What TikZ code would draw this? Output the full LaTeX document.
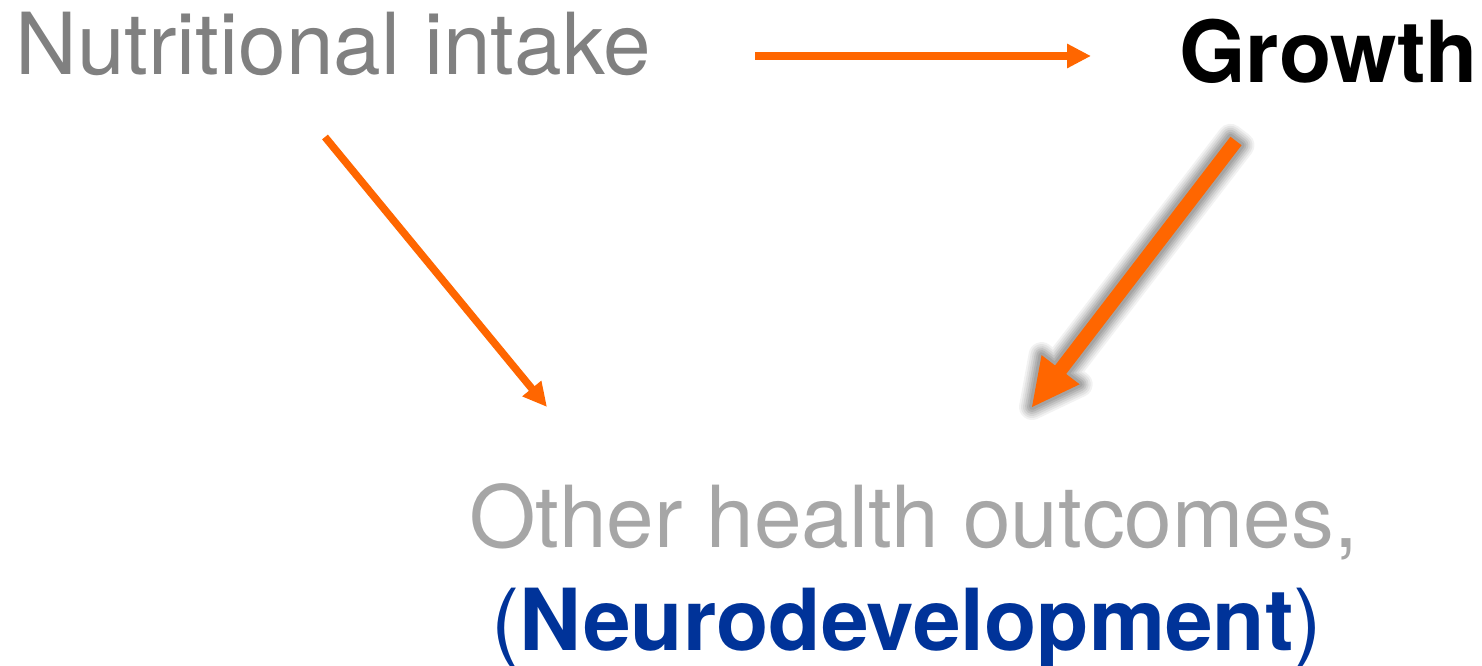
\documentclass[tikz,border=0pt]{standalone}
\usepackage{fontspec}
\setmainfont{TeX Gyre Heros}
\usetikzlibrary{arrows.meta,calc}

\definecolor{linkorange}{HTML}{FF6600}
\definecolor{darkgraytext}{HTML}{808080}
\definecolor{lightgraytext}{HTML}{A6A6A6}
\definecolor{neuroblue}{HTML}{003399}

\tikzset{
  label text/.style={anchor=base west, inner sep=0pt, font=\fontsize{85.6}{100}\selectfont},
  thin link/.style={draw=linkorange, line width=7.5pt,
    -{Triangle[length=24pt,width=23pt]}},
}

% outline of the broad arrow from growth down to the outcomes
\newcommand\broadarrowoutline{%
  ($(gs)!7pt!90:(ot)$) -- ($(hb)!7pt!90:(ot)$) -- ($(hb)!24pt!90:(ot)$) --
  (ot) -- ($(hb)!24pt!-90:(ot)$) -- ($(hb)!7pt!-90:(ot)$) --
  ($(gs)!7pt!-90:(ot)$) -- cycle}

\begin{document}
\begin{tikzpicture}[x=1pt,y=-1pt]
  \useasboundingbox (0,0) rectangle (1482,666);

  % labels
  \node[label text, text=darkgraytext] (nut) at (15,75) {Nutritional intake};
  \node[label text, text=black, font=\fontsize{85.6}{100}\selectfont\bfseries] (gro) at (1179,83) {Growth};
  \node[label text, text=lightgraytext] (oth) at (469,547) {Other health outcomes,};
  \node[label text, text=neuroblue] (neu) at (491,650) {(\textbf{Neurodevelopment})};

  % arrow end points
  \coordinate (ns) at (755,56);
  \coordinate (ge) at (1091,56);
  \coordinate (nd) at (325,137);
  \coordinate (oe) at (547,407);
  \coordinate (gs) at (1236,141);
  \coordinate (ot) at (1032,407);
  \coordinate (hb) at ($(ot)!47pt!(gs)$);

  % thin links
  \draw[thin link] (ns) -- (ge);
  \draw[thin link] (nd) -- (oe);

  % soft grey halo under the broad arrow
  \begin{scope}[shift={(1.5,1.5)}, line join=round, draw=black!50]
    \foreach \w/\o in {26/0.10, 22/0.12, 18/0.15, 14/0.2, 10/0.25, 6/0.3}
      \draw[line width=\w pt, draw opacity=\o] \broadarrowoutline;
  \end{scope}
  \fill[linkorange] \broadarrowoutline;
\end{tikzpicture}
\end{document}
